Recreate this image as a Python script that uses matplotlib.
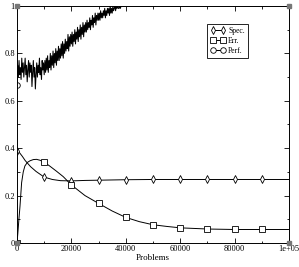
import numpy as np
import matplotlib
matplotlib.use("Agg")
import matplotlib.pyplot as plt
from matplotlib.ticker import MultipleLocator

# ---- data ----
spec_x = [0, 1000, 2000, 3000, 4000, 5000, 7000, 10000, 13000, 16000, 20000,
          25000, 30000, 40000, 50000, 60000, 70000, 80000, 90000, 100000]
spec_y = [0.39, 0.38, 0.365, 0.348, 0.335, 0.322, 0.302, 0.278, 0.268, 0.263, 0.262,
          0.264, 0.265, 0.267, 0.268, 0.268, 0.268, 0.268, 0.268, 0.268]
spec_marks = [0, 7, 10, 12, 13, 14, 15, 16, 17, 18]

err_x = [0, 300, 700, 1100, 1700, 2300, 2900, 3800, 4800, 6000, 7200, 8500, 10000,
         12000, 14500, 17000, 20000, 25000, 30000, 35000, 40000, 45000, 50000,
         55000, 60000, 70000, 80000, 90000, 100000]
err_y = [0.0, 0.04, 0.10, 0.155, 0.255, 0.30, 0.325, 0.34, 0.347, 0.352, 0.353, 0.349, 0.341,
         0.325, 0.303, 0.28, 0.245, 0.20, 0.167, 0.135, 0.108, 0.09, 0.077,
         0.07, 0.064, 0.059, 0.057, 0.057, 0.057]
err_marks = [0, 12, 16, 18, 20, 22, 24, 25, 26, 27]

# Perf. sampled every 250 problems up to 40000, flat at 1 afterwards
perf_step = 250
perf_y = [0.665,
          0.75, 0.70, 0.77, 0.71, 0.74, 0.69, 0.78, 0.72, 0.76, 0.70,
          0.74, 0.78, 0.71, 0.75, 0.68, 0.73, 0.77, 0.70, 0.76, 0.72,
          0.75, 0.66, 0.72, 0.77, 0.70, 0.74, 0.65, 0.71, 0.76, 0.70,
          0.75, 0.72, 0.78, 0.71, 0.74, 0.69, 0.77, 0.73, 0.76, 0.71,
          0.77, 0.72, 0.78, 0.73, 0.79, 0.72, 0.77, 0.74, 0.80, 0.73,
          0.79, 0.75, 0.81, 0.74, 0.80, 0.76, 0.82, 0.75, 0.81, 0.77,
          0.83, 0.77, 0.82, 0.78, 0.84, 0.79, 0.85, 0.78, 0.84, 0.80,
          0.86, 0.81, 0.85, 0.82, 0.88, 0.81, 0.87, 0.83, 0.88, 0.84,
          0.89, 0.83, 0.88, 0.85, 0.90, 0.84, 0.89, 0.86, 0.91, 0.85,
          0.90, 0.87, 0.92, 0.86, 0.91, 0.88, 0.93, 0.87, 0.92, 0.89,
          0.93, 0.89, 0.94, 0.90, 0.93, 0.91, 0.95, 0.90, 0.94, 0.92,
          0.96, 0.91, 0.95, 0.93, 0.97, 0.92, 0.96, 0.94, 0.97, 0.94,
          0.97, 0.94, 0.98, 0.95, 0.97, 0.95, 0.98, 0.96, 0.99, 0.95,
          0.98, 0.96, 0.99, 0.97, 0.99, 0.96, 1.00, 0.97, 0.99, 0.97,
          1.00, 0.98, 0.99, 1.00, 0.98, 1.00, 0.99, 1.00, 0.99, 0.99,
          1.00, 0.99, 1.00, 1.00, 1.00, 1.00, 1.00, 1.00, 1.00, 1.00]
perf_x = list(np.arange(len(perf_y)) * perf_step) + [100000]
perf_y = perf_y + [1.0]

x_ticks = [0, 20000, 40000, 60000, 80000, 100000]
x_labels = ["0", "20000", "40000", "60000", "80000", "1e+05"]
y_ticks = [0, 0.2, 0.4, 0.6, 0.8, 1.0]
y_labels = ["0", "0.2", "0.4", "0.6", "0.8", "1"]

plt.rcParams['font.family'] = ['Liberation Serif', 'DejaVu Serif']

fig = plt.figure(figsize=(2.99, 2.67), dpi=100)
ax = fig.add_axes([17 / 299, 1 - 243 / 267, 272 / 299, 237 / 267])

mk = dict(markerfacecolor='white', markeredgecolor='black', markeredgewidth=0.6)
ax.plot(spec_x, spec_y, color='black', lw=0.7, marker='d', ms=4.2,
        markevery=spec_marks, label='Spec.', **mk)
ax.plot(err_x, err_y, color='black', lw=0.7, marker='s', ms=3.8,
        markevery=err_marks, label='Err.', **mk)
ax.plot(perf_x, perf_y, color='black', lw=0.75, marker='o', ms=4.0,
        markevery=[0], label='Perf.', **mk)

# little grey squares at the corners of the frame
ax.plot([0, 0, 100000, 100000], [0, 1, 0, 1], 's', color='#777777', ms=2.6,
        ls='none', clip_on=False, zorder=5)

ax.set_xlim(0, 100000)
ax.set_ylim(0, 1)
ax.set_xticks(x_ticks)
ax.set_xticklabels(x_labels)
ax.set_yticks(y_ticks)
ax.set_yticklabels(y_labels)
ax.xaxis.set_minor_locator(MultipleLocator(10000))
ax.yaxis.set_minor_locator(MultipleLocator(0.1))
ax.tick_params(which='both', direction='in', top=True, right=True,
               labelsize=6, pad=1.5, width=0.6)
ax.tick_params(which='major', length=3.6)
ax.tick_params(which='minor', length=1.8)
for s in ax.spines.values():
    s.set_linewidth(0.7)

ax.set_xlabel("Problems", fontsize=6.5, labelpad=1)

leg = ax.legend(loc='upper left', bbox_to_anchor=(0.70, 0.925), fontsize=5.5,
                numpoints=2, handlelength=2.0, handletextpad=0.3,
                borderpad=0.4, labelspacing=0.25, fancybox=False,
                framealpha=1, edgecolor='black', borderaxespad=0)
leg.get_frame().set_linewidth(0.6)

fig.savefig("out.png", dpi=100)
